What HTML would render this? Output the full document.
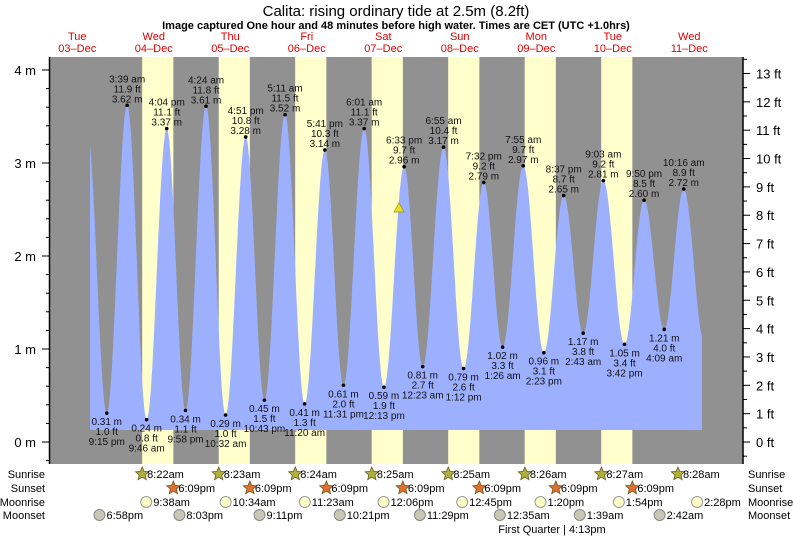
<!DOCTYPE html>
<html><head><meta charset="utf-8"><style>
html,body{margin:0;padding:0;background:#fff;}
svg{display:block;font-family:"Liberation Sans",sans-serif;}
</style></head><body>
<svg id="s" width="793" height="538" xmlns="http://www.w3.org/2000/svg"></svg>
<script>
const S=document.getElementById('s');let h='';
const X=t=>39+t*3.1875, Y=m=>442-m*93;
h+=`<text x="396" y="16" font-size="15" text-anchor="middle">Calita: rising  ordinary tide at 2.5m (8.2ft)</text>`;
h+=`<text x="396" y="29" font-size="11" font-weight="bold" text-anchor="middle">Image captured One hour and 48 minutes before high water. Times are CET (UTC +1.0hrs)</text>`;
const days=[["Tue","03"],["Wed","04"],["Thu","05"],["Fri","06"],["Sat","07"],["Sun","08"],["Mon","09"],["Tue","10"],["Wed","11"]];
days.forEach((d,i)=>{const x=X(24*i+12);h+=`<text x="${x}" y="40" font-size="11" fill="#e00000" text-anchor="middle">${d[0]}</text><text x="${x}" y="52" font-size="11" fill="#e00000" text-anchor="middle">${d[1]}–Dec</text>`;});
h+=`<rect x="50" y="57" width="693" height="407" fill="#919191"/>`;
for(let d=1;d<=7;d++){const a=X(24*d+8.37),b=X(24*d+18.15);h+=`<rect x="${a}" y="57" width="${b-a}" height="407" fill="#ffffcc"/>`;}
const E=[[15.1,3.35],[21.25,.31],[27.65,3.62],[33.77,.24],[40.07,3.37],[45.97,.34],[52.4,3.61],[58.53,.29],[64.85,3.28],[70.72,.45],[77.18,3.52],[83.33,.41],[89.68,3.14],[95.52,.61],[102.02,3.37],[108.22,.59],[114.55,2.96],[120.38,.81],[126.92,3.17],[133.2,.79],[139.53,2.79],[145.43,1.02],[151.92,2.97],[158.38,.96],[164.62,2.65],[170.72,1.17],[177.05,2.81],[183.7,1.05],[189.83,2.60],[196.15,1.21],[202.27,2.72],[208.6,1.1]];
function v(t){for(let i=0;i<E.length-1;i++){const[a,va]=E[i],[b,vb]=E[i+1];if(t>=a&&t<=b){const f=(t-a)/(b-a);return va+(vb-va)*(1-Math.cos(Math.PI*f))/2;}}return 0;}
let p=`M${X(16)},430`;for(let t=16;t<=208.001;t+=0.1)p+=` L${X(t).toFixed(1)},${Y(v(t)).toFixed(1)}`;p+=` L${X(208)},430 Z`;
h+=`<path d="${p}" fill="#9db0ff"/>`;
const L=[["9:15 pm","1.0 ft"],["3:39 am","11.9 ft"],["9:46 am","0.8 ft"],["4:04 pm","11.1 ft"],["9:58 pm","1.1 ft"],["4:24 am","11.8 ft"],["10:32 am","1.0 ft"],["4:51 pm","10.8 ft"],["10:43 pm","1.5 ft"],["5:11 am","11.5 ft"],["11:20 am","1.3 ft"],["5:41 pm","10.3 ft"],["11:31 pm","2.0 ft"],["6:01 am","11.1 ft"],["12:13 pm","1.9 ft"],["6:33 pm","9.7 ft"],["12:23 am","2.7 ft"],["6:55 am","10.4 ft"],["1:12 pm","2.6 ft"],["7:32 pm","9.2 ft"],["1:26 am","3.3 ft"],["7:55 am","9.7 ft"],["2:23 pm","3.1 ft"],["8:37 pm","8.7 ft"],["2:43 am","3.8 ft"],["9:03 am","9.2 ft"],["3:42 pm","3.4 ft"],["9:50 pm","8.5 ft"],["4:09 am","4.0 ft"],["10:16 am","8.9 ft"]];
for(let i=1;i<E.length-1;i++){const[t,m]=E[i],x=X(t),y=Y(m),l=L[i-1],hi=m>2;h+=`<circle cx="${x}" cy="${y}" r="1.8" fill="#000"/>`;
const ls=hi?[[l[0],-23],[l[1],-13],[m.toFixed(2)+" m",-3]]:[[m.toFixed(2)+" m",12],[l[1],22],[l[0],32]];
ls.forEach(q=>h+=`<text x="${x}" y="${y+q[1]}" font-size="10" text-anchor="middle" fill="#111">${q[0]}</text>`);}
h+=`<polygon points="399,203 394,212 404,212" fill="#e8e020" stroke="#a09000" stroke-width="0.7"/>`;
h+=`<line x1="49.5" y1="57" x2="49.5" y2="464" stroke="#000" stroke-width="1.5"/><line x1="743" y1="57" x2="743" y2="464" stroke="#000" stroke-width="1.5"/>`;
for(let m=-0.2;m<=4.21;m+=0.2){const y=Y(m);if(y<57||y>464)continue;const maj=Math.abs(m-Math.round(m))<0.01;h+=`<line x1="${maj?42:46}" y1="${y}" x2="50" y2="${y}" stroke="#000"/>`;if(maj)h+=`<text x="36" y="${y+5}" font-size="13" text-anchor="end">${Math.round(m)} m</text>`;}
for(let f=-0.5;f<=13.6;f+=0.5){const y=Y(f*0.3048);if(y<57||y>464)continue;const maj=Math.abs(f-Math.round(f))<0.01;h+=`<line x1="743" y1="${y}" x2="${maj?750:747}" y2="${y}" stroke="#000"/>`;if(maj)h+=`<text x="756" y="${y+5}" font-size="13">${Math.round(f)} ft</text>`;}
const rows=[["Sunrise",478],["Sunset",492],["Moonrise",506],["Moonset",519]];
rows.forEach(r=>{h+=`<text x="45" y="${r[1]}" font-size="11" text-anchor="end">${r[0]}</text><text x="748" y="${r[1]}" font-size="11">${r[0]}</text>`;});
function star(cx,cy,fill){let pts=[];for(let k=0;k<10;k++){const a=-Math.PI/2+k*Math.PI/5,r=k%2?3.2:7;pts.push((cx+r*Math.cos(a)).toFixed(1)+","+(cy+r*Math.sin(a)).toFixed(1));}return `<polygon points="${pts.join(' ')}" fill="${fill}" stroke="#6a5a20" stroke-width="0.8"/>`;}
const tt=s=>{let[a,b]=s.split(':');let hh=+a,mm=parseInt(b);const pm=s.includes('pm');if(pm&&hh<12)hh+=12;if(!pm&&hh==12)hh=0;return hh+mm/60;};
["8:22am","8:23am","8:24am","8:25am","8:25am","8:26am","8:27am","8:28am"].forEach((s,i)=>{const x=X(24*(i+1)+tt(s));h+=star(x,474,"#b0b040")+`<text x="${x+5}" y="478" font-size="11">${s}</text>`;});
for(let d=1;d<=7;d++){const x=X(24*d+18.15);h+=star(x,488,"#e07030")+`<text x="${x+5}" y="492" font-size="11">6:09pm</text>`;}
[["9:38am",1],["10:34am",2],["11:23am",3],["12:06pm",4],["12:45pm",5],["1:20pm",6],["1:54pm",7],["2:28pm",8]].forEach(q=>{const x=X(24*q[1]+tt(q[0]));h+=`<circle cx="${x}" cy="502" r="5.5" fill="#ffffc8" stroke="#999"/><text x="${x+7}" y="506" font-size="11">${q[0]}</text>`;});
[["6:58pm",0],["8:03pm",1],["9:11pm",2],["10:21pm",3],["11:29pm",4],["12:35am",6],["1:39am",7],["2:42am",8]].forEach(q=>{const x=X(24*q[1]+tt(q[0]));h+=`<circle cx="${x}" cy="515" r="5.5" fill="#c8c8b4" stroke="#888"/><text x="${x+7}" y="519" font-size="11">${q[0]}</text>`;});
h+=`<text x="552" y="533" font-size="11" text-anchor="middle">First Quarter | 4:13pm</text>`;
S.innerHTML=h;
</script>
</body></html>
